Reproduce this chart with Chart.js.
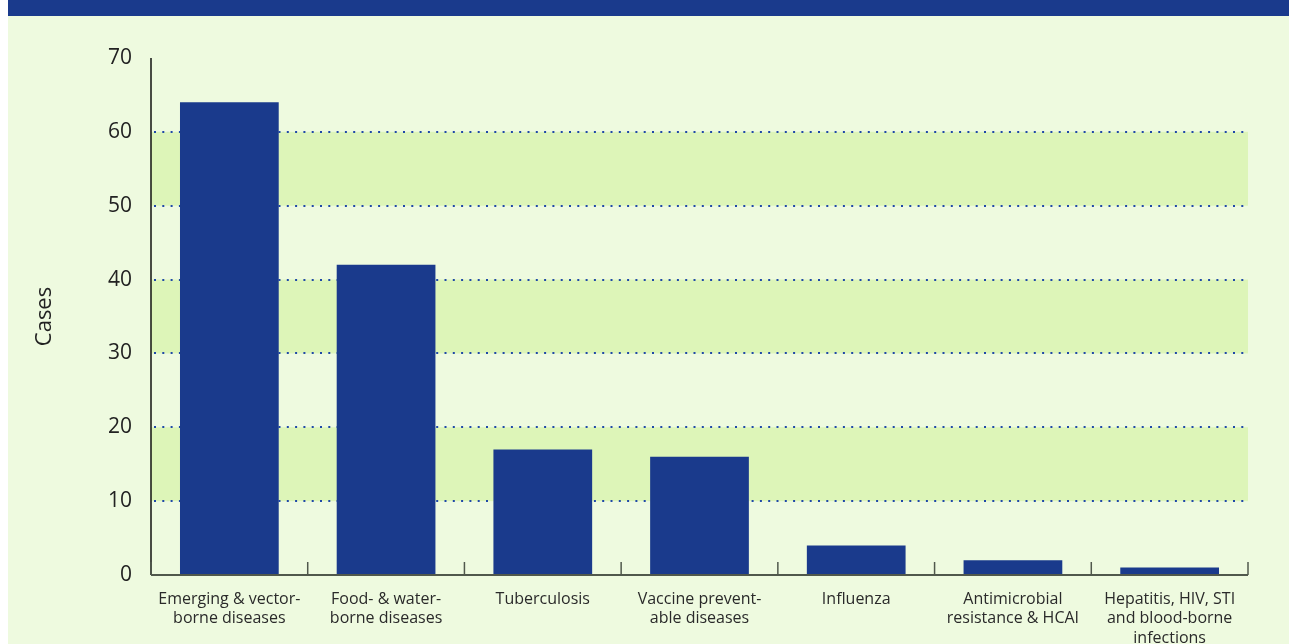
<!DOCTYPE html>
<html>
<head>
<meta charset="utf-8">
<script src="https://cdn.jsdelivr.net/npm/chart.js@4/dist/chart.umd.min.js"></script>
<style>
  html, body { margin: 0; padding: 0; background: #ffffff; }
  body { width: 1289px; height: 644px; position: relative; overflow: hidden; }
  #panel { position: absolute; left: 8px; top: 0; width: 1281px; height: 644px; background: #eefadf; }
  #band { position: absolute; left: 8px; top: 0; width: 1281px; height: 16px; background: #1a3a8c; }
  #wrap { position: absolute; left: 0; top: 0; width: 1289px; height: 644px; }
</style>
</head>
<body>
<div id="panel"></div>
<div id="band"></div>
<div id="wrap"><canvas id="chart" width="1289" height="644"></canvas></div>
<script>
// Disease groups and reported case counts
const categories = [
  ['Emerging & vector-', 'borne diseases'],
  ['Food- & water-', 'borne diseases'],
  ['Tuberculosis'],
  ['Vaccine prevent-', 'able diseases'],
  ['Influenza'],
  ['Antimicrobial', 'resistance & HCAI'],
  ['Hepatitis, HIV, STI', 'and blood-borne', 'infections']
];
const cases = [64, 42, 17, 16, 4, 2, 1];
const yTicks = [0, 10, 20, 30, 40, 50, 60, 70];
const shadedBands = [[10, 20], [30, 40], [50, 60]];
const dottedLines = [10, 20, 30, 40, 50, 60];

const BAR = '#1a3a8c';

// Alternating shaded bands and dotted reference lines behind the bars
const backdrop = {
  id: 'backdrop',
  beforeDatasetsDraw(chart) {
    const { ctx, chartArea: a, scales: { y } } = chart;
    ctx.save();
    ctx.fillStyle = '#ddf5b8';
    shadedBands.forEach(([lo, hi]) => {
      const t = y.getPixelForValue(hi), b = y.getPixelForValue(lo);
      ctx.fillRect(a.left, t, a.right - a.left, b - t);
    });
    ctx.strokeStyle = '#1f48a8';
    ctx.lineWidth = 2;
    ctx.setLineDash([2, 6.3]);
    dottedLines.forEach(v => {
      const py = Math.round(y.getPixelForValue(v));
      ctx.beginPath();
      ctx.moveTo(a.left + 3, py);
      ctx.lineTo(a.right, py);
      ctx.stroke();
    });
    ctx.restore();
  },
  afterDatasetsDraw(chart) {
    const { ctx, chartArea: a, scales: { x, y } } = chart;
    ctx.save();
    // vertical axis
    ctx.strokeStyle = '#111111';
    ctx.lineWidth = 1.5;
    ctx.beginPath();
    ctx.moveTo(a.left, y.getPixelForValue(70));
    ctx.lineTo(a.left, a.bottom);
    ctx.stroke();
    // horizontal axis
    ctx.strokeStyle = '#50584c';
    ctx.lineWidth = 2;
    ctx.beginPath();
    ctx.moveTo(a.left, a.bottom);
    ctx.lineTo(a.right, a.bottom);
    ctx.stroke();
    // category separators rising from the axis
    ctx.lineWidth = 1.5;
    for (let i = 0; i <= categories.length; i++) {
      const px = i === 0 ? a.left : (i === categories.length ? a.right : (x.getPixelForValue(i - 1) + x.getPixelForValue(i)) / 2);
      ctx.beginPath();
      ctx.moveTo(px, a.bottom - 13);
      ctx.lineTo(px, a.bottom);
      ctx.stroke();
    }
    ctx.restore();
  }
};

new Chart(document.getElementById('chart'), {
  type: 'bar',
  data: {
    labels: categories,
    datasets: [{
      data: cases,
      backgroundColor: BAR,
      borderWidth: 0,
      categoryPercentage: 1,
      barPercentage: 0.63
    }]
  },
  options: {
    responsive: false,
    animation: false,
    events: [],
    layout: { padding: { top: 58, right: 41, left: 0, bottom: 0 } },
    plugins: { legend: { display: false }, tooltip: { enabled: false } },
    scales: {
      x: {
        grid: { display: false },
        border: { display: false },
        ticks: {
          color: '#2a2a2a',
          font: { family: 'Open Sans', size: 16 },
          padding: 7,
          maxRotation: 0,
          autoSkip: false
        },
        afterFit(s) { s.height = 69; s.paddingLeft = 0; s.paddingRight = 0; }
      },
      y: {
        min: 0,
        max: 70,
        grid: { display: false },
        border: { display: false },
        afterBuildTicks(s) { s.ticks = yTicks.map(v => ({ value: v })); },
        ticks: {
          color: '#222222',
          font: { family: 'Open Sans', size: 21 },
          padding: 11
        },
        title: {
          display: true,
          text: 'Cases',
          color: '#222222',
          font: { family: 'Open Sans', size: 22 },
          padding: { top: 32, bottom: 0 }
        },
        afterFit(s) { s.width = 151; s.paddingTop = 0; s.paddingBottom = 0; }
      }
    }
  },
  plugins: [backdrop]
});
</script>
</body>
</html>
